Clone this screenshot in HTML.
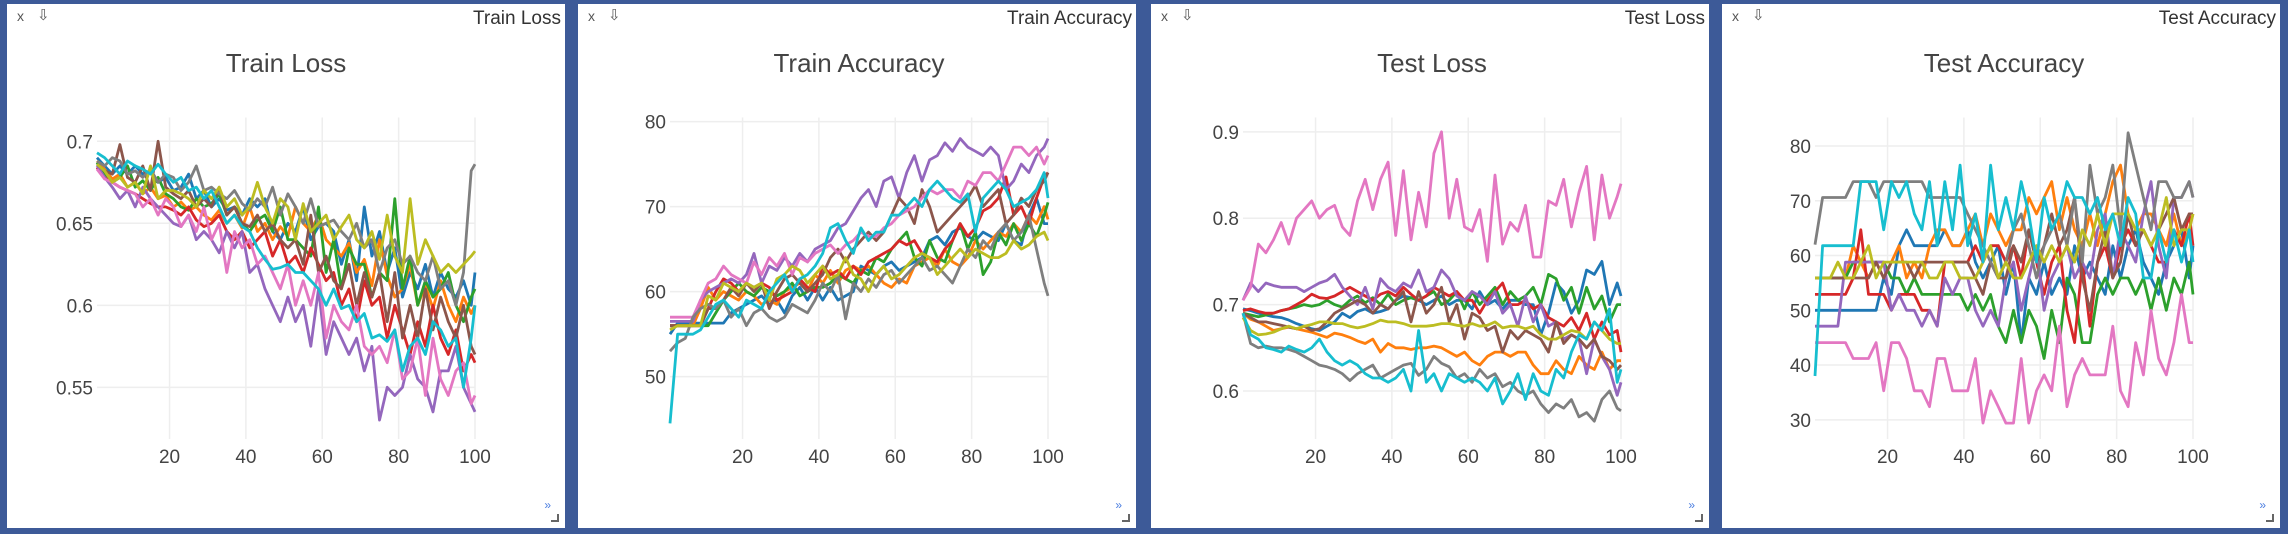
<!DOCTYPE html>
<html><head><meta charset="utf-8">
<style>
html,body{margin:0;padding:0;}
body{width:2288px;height:534px;background:#3d5a98;position:relative;overflow:hidden;font-family:"Liberation Sans",sans-serif;}
.panel{position:absolute;top:4px;height:524px;width:558px;background:#fff;}
.hdr{position:absolute;top:4px;right:4px;font-size:19px;color:#333;background:#fff;}
.xbtn{position:absolute;top:4px;left:10px;font-size:14px;color:#555;}
.dl{position:absolute;top:2px;left:30px;font-size:15px;color:#555;}
.more{position:absolute;right:14px;bottom:16px;font-size:12px;color:#4a7de0;}
.corner{position:absolute;right:6px;bottom:6px;width:6px;height:6px;border-right:2px solid #666;border-bottom:2px solid #666;}
svg{position:absolute;left:0;top:0;}
</style></head><body>
<div class="panel" style="left:7px"><span class="xbtn">x</span><span class="dl">⇩</span><span class="hdr">Train Loss</span><span class="more">»</span><span class="corner"></span><svg id="c0" width="558" height="524"></svg></div>
<div class="panel" style="left:578px"><span class="xbtn">x</span><span class="dl">⇩</span><span class="hdr">Train Accuracy</span><span class="more">»</span><span class="corner"></span><svg id="c1" width="558" height="524"></svg></div>
<div class="panel" style="left:1151px"><span class="xbtn">x</span><span class="dl">⇩</span><span class="hdr">Test Loss</span><span class="more">»</span><span class="corner"></span><svg id="c2" width="558" height="524"></svg></div>
<div class="panel" style="left:1722px"><span class="xbtn">x</span><span class="dl">⇩</span><span class="hdr">Test Accuracy</span><span class="more">»</span><span class="corner"></span><svg id="c3" width="558" height="524"></svg></div>
<script>
const epochs=[1,3,5,7,9,11,13,15,17,19,21,23,25,27,29,31,33,35,37,39,41,43,45,47,49,51,53,55,57,59,61,63,65,67,69,71,73,75,77,79,81,83,85,87,89,91,93,95,97,99,100];
const seriesNames=["blue","orange","green","red","purple","brown","pink","gray","olive","cyan"];
const seriesColors=["#1f77b4","#ff7f0e","#2ca02c","#d62728","#9467bd","#8c564b","#e377c2","#7f7f7f","#bcbd22","#17becf"];
const xTicks=[20,40,60,80,100];

const trainLoss_blue=[.69,.685,.68,.685,.68,.685,.68,.682,.675,.678,.67,.672,.68,.665,.67,.66,.665,.658,.66,.655,.665,.66,.665,.645,.64,.65,.645,.66,.64,.648,.65,.645,.625,.64,.615,.66,.63,.645,.62,.635,.605,.62,.61,.625,.605,.62,.61,.605,.615,.6,.62];
const trainLoss_orange=[.688,.683,.677,.68,.672,.675,.668,.672,.665,.667,.66,.663,.658,.66,.655,.652,.658,.65,.655,.647,.66,.645,.65,.64,.648,.642,.66,.65,.645,.655,.64,.635,.63,.638,.62,.628,.612,.64,.618,.605,.61,.625,.6,.612,.598,.615,.6,.59,.605,.595,.6];
const trainLoss_green=[.687,.68,.675,.678,.685,.672,.676,.67,.678,.668,.665,.66,.658,.665,.66,.662,.668,.655,.66,.65,.645,.652,.655,.645,.66,.64,.64,.635,.63,.66,.62,.64,.61,.635,.625,.625,.605,.62,.615,.665,.61,.63,.6,.615,.605,.61,.62,.6,.59,.605,.61];
const trainLoss_red=[.684,.678,.675,.672,.67,.668,.665,.662,.66,.66,.658,.655,.66,.652,.648,.65,.655,.645,.64,.645,.635,.64,.645,.63,.64,.625,.63,.62,.635,.625,.615,.62,.6,.61,.59,.615,.6,.605,.58,.6,.585,.57,.59,.575,.6,.58,.57,.585,.56,.57,.565];
const trainLoss_purple=[.685,.678,.672,.665,.67,.66,.672,.665,.66,.655,.65,.648,.655,.64,.645,.64,.632,.645,.635,.645,.62,.625,.61,.6,.59,.605,.59,.6,.575,.61,.57,.59,.58,.57,.58,.56,.575,.53,.55,.545,.55,.57,.555,.55,.535,.56,.56,.575,.55,.54,.535];
const trainLoss_brown=[.686,.682,.68,.698,.678,.675,.685,.67,.7,.672,.668,.665,.67,.66,.665,.66,.672,.655,.66,.65,.648,.655,.645,.65,.64,.635,.64,.625,.655,.62,.63,.615,.61,.625,.6,.62,.605,.62,.59,.62,.58,.6,.58,.61,.585,.605,.59,.58,.6,.575,.57];
const trainLoss_pink=[.683,.677,.675,.672,.67,.668,.66,.665,.655,.665,.66,.648,.655,.645,.66,.64,.65,.62,.645,.635,.64,.625,.63,.62,.61,.625,.6,.615,.6,.62,.58,.6,.59,.585,.6,.575,.57,.575,.565,.585,.555,.56,.58,.545,.58,.555,.545,.56,.565,.54,.545];
const trainLoss_gray=[.688,.685,.69,.688,.68,.682,.678,.683,.675,.68,.678,.67,.675,.685,.67,.672,.668,.665,.67,.662,.658,.665,.66,.672,.655,.668,.66,.65,.665,.648,.65,.652,.645,.64,.65,.635,.64,.62,.635,.64,.625,.63,.62,.615,.63,.61,.615,.6,.62,.682,.686];
const trainLoss_olive=[.686,.682,.675,.678,.672,.675,.668,.685,.665,.67,.67,.668,.665,.66,.67,.665,.672,.66,.665,.655,.66,.675,.66,.65,.665,.66,.64,.662,.645,.65,.655,.64,.648,.655,.64,.635,.645,.628,.655,.63,.62,.665,.625,.64,.63,.62,.625,.62,.625,.63,.633];
const trainLoss_cyan=[.693,.69,.685,.68,.688,.685,.683,.68,.686,.68,.675,.678,.67,.672,.665,.67,.66,.65,.655,.648,.645,.635,.628,.622,.623,.625,.62,.62,.615,.61,.6,.61,.598,.6,.59,.595,.58,.582,.578,.585,.56,.575,.58,.57,.59,.585,.575,.58,.55,.58,.6];

const trainAcc_blue=[55,56.3,56.3,56.3,56.3,56.3,56.3,56.3,57.5,58,58.5,59,59.5,58.5,59,57.5,59.5,60.5,59,60.5,59,60.5,59,59.5,60,63,62.5,62,63,63.5,62.5,63,63.5,64,66,66.5,65.5,67,67.5,66.5,66,67,66.5,66,68,66,65.5,69,71,68,68];
const trainAcc_orange=[56,56,56,56,58,60.5,59,60,59.5,59,60,59.5,58.5,59,58.5,60,60.5,61,60,62,61,62.5,61,62.5,63,62.5,63,62,61,60.5,61.5,61,63,63.5,64,63,65,63.5,63,64,66,65,66,67,66.5,68,67,69,68,70,68.5];
const trainAcc_green=[56,56,56,56,56,56,57.5,59,60,61,60,59.5,60.5,60,59.5,60,61,59.5,60,60.5,60.5,61,62,61.5,61,62.5,62,64,63.5,65,66,67,64,63,66,64,63.5,66,68,65,67,62,63.5,67,65.5,68,66,68,66.5,69,70.5];
const trainAcc_red=[56,56,56,56,56,58,60,61.5,61,60,61,60.5,61,60.5,59,59.5,60,61.5,60.5,60,63,62,62.5,61.5,63,62,63.5,64,64.5,65,66,65.5,66,64.5,64,63.5,65,66,68,66.5,67.5,69.5,70,71,73.5,69,70,68,71,73.5,74];
const trainAcc_purple=[56.5,56.5,56.5,56.5,59,60,60.5,61,61.5,61,62,64.5,61,63,62.5,64,63,64.5,63.5,65,65.5,66,67.5,68,69.5,71,72,70,73,73.5,71,74,76,73,75.5,76,77.5,76.5,78,77,76.5,76,77,76,72,73,75,74,76,77,78];
const trainAcc_brown=[56,56,56,56,56,58,58,59,60.5,59.5,61,60,61,58,60,61.5,62,61,60,61,62,64,65,63.5,65,66,67,66,67,69,71,70,68,72,70,67,68,69,70,71,72.5,70,71,72,68,69,71,70,72,73,74];
const trainAcc_pink=[57,57,57,57,59,61,61.5,63,62,61.5,61,63.5,62,64,63,64.5,62,64,63.5,64.5,65,65.5,64.5,65.5,66,67,66.5,66.5,67.5,68,69,69.5,70,71,72,71.5,72,72,71,73,72.5,74,74,73,75,77,77,76,77,75,76];
const trainAcc_gray=[53,54,54.5,57,58,58.5,58,59,57,58,56,57.5,58,57,56.5,57,58.5,58,57.5,59,61,60,62,56.8,61,60,61.5,60.5,62,62.5,61,62,63,64,62.5,63,62,61,63,65,64,66,65,67,68,66,67,69,65,61,59.5];
const trainAcc_olive=[55.5,56,56,56,56,59.5,59,61,60.5,60,61,60.5,61,59,61.5,62,63,62.5,61,62,63,61.5,62,64,62,61.5,60,62,63,61.5,62,63,64,64.5,64,62,63,64,65,64,65,64.5,64,64,64.5,66,65,65.5,66.5,67,66];
const trainAcc_cyan=[44.5,55,55,55,55.5,57,58.5,59,58,57,59,58.5,58,60,61,62,60,61.5,62,63,64.5,67.5,68,66,64.5,67.5,66,67,67,69,69,70,71,70,72,73,72,71,70.5,71.5,67,71,72,73,72,70,70.5,71,72,74,71];

const testLoss_blue=[.695,.693,.69,.688,.686,.685,.682,.678,.675,.672,.67,.675,.68,.69,.685,.692,.695,.69,.692,.695,.705,.71,.708,.705,.7,.705,.71,.7,.705,.705,.695,.715,.7,.705,.695,.705,.705,.7,.7,.665,.69,.725,.715,.69,.705,.74,.735,.75,.7,.725,.71];
const testLoss_orange=[.69,.683,.68,.675,.67,.672,.674,.672,.67,.668,.665,.662,.667,.665,.662,.658,.655,.66,.645,.655,.65,.65,.648,.65,.65,.652,.65,.645,.64,.645,.635,.63,.64,.645,.645,.64,.645,.645,.63,.62,.62,.635,.625,.62,.64,.63,.625,.645,.625,.635,.635];
const testLoss_green=[.69,.688,.686,.688,.69,.693,.695,.697,.7,.698,.7,.705,.7,.697,.705,.71,.702,.708,.7,.712,.7,.705,.708,.705,.71,.715,.7,.705,.715,.695,.715,.7,.71,.72,.7,.715,.705,.71,.72,.7,.735,.73,.705,.72,.69,.72,.695,.71,.68,.7,.7];
const testLoss_red=[.693,.695,.692,.69,.69,.693,.695,.7,.705,.712,.708,.707,.71,.715,.72,.715,.71,.705,.712,.715,.71,.72,.712,.705,.71,.72,.715,.71,.715,.705,.705,.69,.705,.715,.725,.7,.7,.705,.695,.7,.685,.68,.675,.685,.67,.69,.66,.68,.665,.67,.645];
const testLoss_purple=[.705,.725,.715,.725,.722,.72,.72,.72,.715,.72,.725,.728,.735,.72,.71,.7,.72,.695,.73,.72,.715,.725,.72,.74,.715,.72,.74,.73,.71,.705,.715,.71,.7,.715,.69,.7,.675,.71,.68,.7,.675,.68,.66,.665,.66,.62,.66,.64,.625,.595,.61];
const testLoss_brown=[.69,.685,.68,.68,.678,.676,.674,.672,.675,.67,.672,.68,.69,.695,.7,.705,.7,.69,.7,.695,.705,.715,.68,.715,.69,.7,.72,.68,.7,.66,.69,.685,.67,.675,.645,.67,.66,.67,.665,.66,.645,.68,.655,.665,.66,.65,.66,.64,.635,.625,.63];
const testLoss_pink=[.705,.72,.77,.76,.775,.795,.77,.8,.81,.82,.8,.81,.815,.79,.78,.82,.845,.81,.845,.865,.78,.855,.775,.83,.79,.875,.9,.8,.845,.79,.785,.81,.75,.85,.77,.795,.785,.815,.755,.755,.82,.815,.845,.79,.83,.86,.775,.85,.8,.825,.84];
const testLoss_gray=[.69,.655,.65,.652,.65,.65,.648,.645,.64,.635,.63,.628,.625,.62,.612,.62,.625,.63,.615,.62,.625,.63,.632,.618,.625,.64,.632,.628,.615,.62,.61,.625,.615,.62,.605,.61,.6,.595,.6,.585,.575,.585,.58,.59,.57,.575,.565,.59,.6,.58,.577];
const testLoss_olive=[.685,.67,.665,.666,.668,.672,.675,.672,.675,.677,.68,.68,.678,.678,.675,.673,.675,.678,.682,.68,.68,.678,.675,.675,.675,.676,.678,.678,.676,.675,.678,.675,.676,.68,.673,.675,.675,.672,.675,.665,.66,.66,.665,.67,.668,.66,.68,.67,.66,.655,.655];
const testLoss_cyan=[.69,.665,.66,.65,.648,.645,.652,.648,.645,.65,.66,.645,.635,.63,.635,.63,.62,.615,.615,.61,.615,.625,.6,.67,.61,.62,.6,.62,.615,.61,.615,.61,.6,.615,.585,.6,.62,.59,.62,.6,.595,.625,.615,.645,.665,.66,.68,.67,.695,.61,.625];

const testAcc_blue=[50,50,50,50,50,50,50,50,50,55.9,52.9,61.8,64.7,61.8,61.8,61.8,61.8,64.7,61.8,61.8,64.7,58.8,55.9,58.8,61.8,52.9,58.8,44.1,55.9,52.9,58.8,52.9,55.9,52.9,61.8,55.9,58.8,55.9,52.9,61.8,55.9,61.8,64.7,58.8,55.9,52.9,58.8,61.8,64.7,55.9,61.8];
const testAcc_orange=[55.9,55.9,55.9,55.9,55.9,61.8,58.8,55.9,58.8,55.9,58.8,61.8,55.9,58.8,55.9,61.8,64.7,64.7,61.8,61.8,64.7,67.6,61.8,67.6,64.7,61.8,64.7,64.7,70.6,67.6,70.6,73.5,64.7,70.6,64.7,61.8,67.6,61.8,67.6,73.5,76.5,67.6,64.7,67.6,67.6,64.7,61.8,67.6,61.8,64.7,67.6];
const testAcc_green=[55.9,55.9,55.9,55.9,55.9,58.8,58.8,58.8,58.8,58.8,55.9,55.9,52.9,55.9,52.9,52.9,52.9,52.9,52.9,52.9,50,52.9,50,52.9,47.1,44.1,50,44.1,50,47.1,41.2,50,44.1,55.9,52.9,44.1,44.1,52.9,55.9,52.9,55.9,55.9,52.9,55.9,50,55.9,50,55.9,52.9,58.8,52.9];
const testAcc_red=[52.9,52.9,52.9,52.9,52.9,55.9,64.7,52.9,52.9,52.9,50,52.9,52.9,52.9,50,50,47.1,58.8,58.8,58.8,58.8,61.8,58.8,61.8,61.8,58.8,61.8,55.9,64.7,58.8,52.9,58.8,61.8,50,44.1,58.8,47.1,58.8,61.8,55.9,61.8,64.7,61.8,64.7,61.8,58.8,58.8,64.7,61.8,67.6,61.8];
const testAcc_purple=[47.1,47.1,47.1,47.1,58.8,58.8,58.8,58.8,58.8,58.8,50,52.9,50,50,47.1,50,47.1,55.9,52.9,55.9,55.9,50,47.1,50,47.1,55.9,58.8,50,55.9,61.8,50,55.9,58.8,61.8,55.9,58.8,55.9,64.7,67.6,55.9,64.7,61.8,58.8,67.6,73.5,61.8,55.9,70.6,70.6,73.5,70.6];
const testAcc_brown=[55.9,55.9,55.9,55.9,55.9,55.9,55.9,55.9,58.8,55.9,58.8,58.8,58.8,55.9,58.8,58.8,58.8,58.8,58.8,58.8,58.8,55.9,52.9,58.8,55.9,55.9,61.8,58.8,64.7,58.8,61.8,67.6,61.8,64.7,70.6,55.9,50,58.8,64.7,55.9,58.8,67.6,61.8,64.7,61.8,64.7,67.6,70.6,64.7,67.6,67.6];
const testAcc_pink=[44.1,44.1,44.1,44.1,44.1,41.2,41.2,41.2,44.1,35.3,44.1,44.1,41.2,35.3,35.3,32.4,41.2,41.2,35.3,35.3,35.3,41.2,29.4,35.3,32.4,29.4,29.4,41.2,29.4,35.3,38.2,35.3,47.1,32.4,38.2,41.2,38.2,38.2,38.2,47.1,35.3,32.4,44.1,38.2,50,41.2,38.2,44.1,52.9,44.1,44.1];
const testAcc_gray=[62,70.6,70.6,70.6,70.6,73.5,73.5,73.5,70.6,73.5,73.5,73.5,73.5,73.5,73.5,70.6,70.6,70.6,70.6,70.6,67.6,64.7,61.8,58.8,55.9,58.8,64.7,67.6,61.8,55.9,61.8,64.7,67.6,61.8,70.6,58.8,76.5,67.6,70.6,76.5,64.7,82.4,76.5,70.6,64.7,73.5,73.5,70.6,70.6,73.5,70.6];
const testAcc_olive=[55.9,55.9,55.9,58.8,55.9,55.9,58.8,61.8,55.9,58.8,58.8,58.8,58.8,58.8,58.8,55.9,55.9,58.8,58.8,55.9,55.9,55.9,58.8,61.8,55.9,58.8,55.9,55.9,58.8,61.8,58.8,61.8,58.8,61.8,58.8,64.7,61.8,67.6,61.8,67.6,67.6,67.6,64.7,64.7,61.8,64.7,70.6,61.8,64.7,64.7,67.6];
const testAcc_cyan=[38,61.8,61.8,61.8,61.8,61.8,73.5,73.5,73.5,64.7,73.5,70.6,73.5,67.6,64.7,73.5,61.8,73.5,64.7,76.5,61.8,67.6,58.8,76.5,64.7,70.6,64.7,73.5,67.6,58.8,70.6,64.7,67.6,73.5,70.6,70.6,67.6,70.6,64.7,67.6,61.8,70.6,67.6,55.9,55.9,64.7,58.8,64.7,58.8,64.7,58.8];

const trainLossTicks=[0.55,0.6,0.65,0.7];
const trainAccTicks=[50,60,70,80];
const testLossTicks=[0.6,0.7,0.8,0.9];
const testAccTicks=[30,40,50,60,70,80];

const charts=[
 {id:"c0",title:"Train Loss",left:90,yMin:0.5185,yMax:0.7145,ticks:trainLossTicks,labels:["0.55","0.6","0.65","0.7"],series:[trainLoss_blue,trainLoss_orange,trainLoss_green,trainLoss_red,trainLoss_purple,trainLoss_brown,trainLoss_pink,trainLoss_gray,trainLoss_olive,trainLoss_cyan]},
 {id:"c1",title:"Train Accuracy",left:92,yMin:42.67,yMax:80.48,ticks:trainAccTicks,labels:["50","60","70","80"],series:[trainAcc_blue,trainAcc_orange,trainAcc_green,trainAcc_red,trainAcc_purple,trainAcc_brown,trainAcc_pink,trainAcc_gray,trainAcc_olive,trainAcc_cyan]},
 {id:"c2",title:"Test Loss",left:92,yMin:0.5444,yMax:0.9166,ticks:testLossTicks,labels:["0.6","0.7","0.8","0.9"],series:[testLoss_blue,testLoss_orange,testLoss_green,testLoss_red,testLoss_purple,testLoss_brown,testLoss_pink,testLoss_gray,testLoss_olive,testLoss_cyan]},
 {id:"c3",title:"Test Accuracy",left:93,yMin:26.5,yMax:85.2,ticks:testAccTicks,labels:["30","40","50","60","70","80"],series:[testAcc_blue,testAcc_orange,testAcc_green,testAcc_red,testAcc_purple,testAcc_brown,testAcc_pink,testAcc_gray,testAcc_olive,testAcc_cyan]}
];
const NS="http://www.w3.org/2000/svg";
function mk(tag,attrs){const e=document.createElementNS(NS,tag);for(const k in attrs)e.setAttribute(k,attrs[k]);return e;}
charts.forEach(function(c){
  const svg=document.getElementById(c.id);
  const top=113.5,h=321.5,w=378,L=c.left;
  const xs=function(v){return L+(v-1)/99*w;};
  const ys=function(v){return top+(c.yMax-v)/(c.yMax-c.yMin)*h;};
  const t=mk("text",{x:L+w/2,y:68,"text-anchor":"middle","font-size":"26","fill":"#444"});
  t.textContent=c.title;
  
  
  svg.appendChild(t);
  xTicks.forEach(function(v){
    const g=mk("line",{x1:xs(v),x2:xs(v),y1:top,y2:top+h,stroke:"#eee","stroke-width":"1.5"});
    
    
    svg.appendChild(g);
    const lb=mk("text",{x:xs(v),y:459,"text-anchor":"middle","font-size":"19","fill":"#444"});
    lb.textContent=String(v);
    
    
    svg.appendChild(lb);
  });
  c.ticks.forEach(function(v,i){
    const g=mk("line",{x1:L,x2:L+w,y1:ys(v),y2:ys(v),stroke:"#eee","stroke-width":"1.5"});
    
    
    svg.appendChild(g);
    const lb=mk("text",{x:L-4,y:ys(v)+7,"text-anchor":"end","font-size":"19","fill":"#444"});
    lb.textContent=c.labels[i];
    
    
    svg.appendChild(lb);
  });
  c.series.forEach(function(vals,si){
    const pts=vals.map(function(v,i){return xs(epochs[i]).toFixed(1)+","+ys(v).toFixed(1);}).join(" ");
    const p=mk("polyline",{points:pts,fill:"none",stroke:seriesColors[si],"stroke-width":"2.8","stroke-linejoin":"round"});
    
    
    svg.appendChild(p);
  });
});
</script>
</body></html>
